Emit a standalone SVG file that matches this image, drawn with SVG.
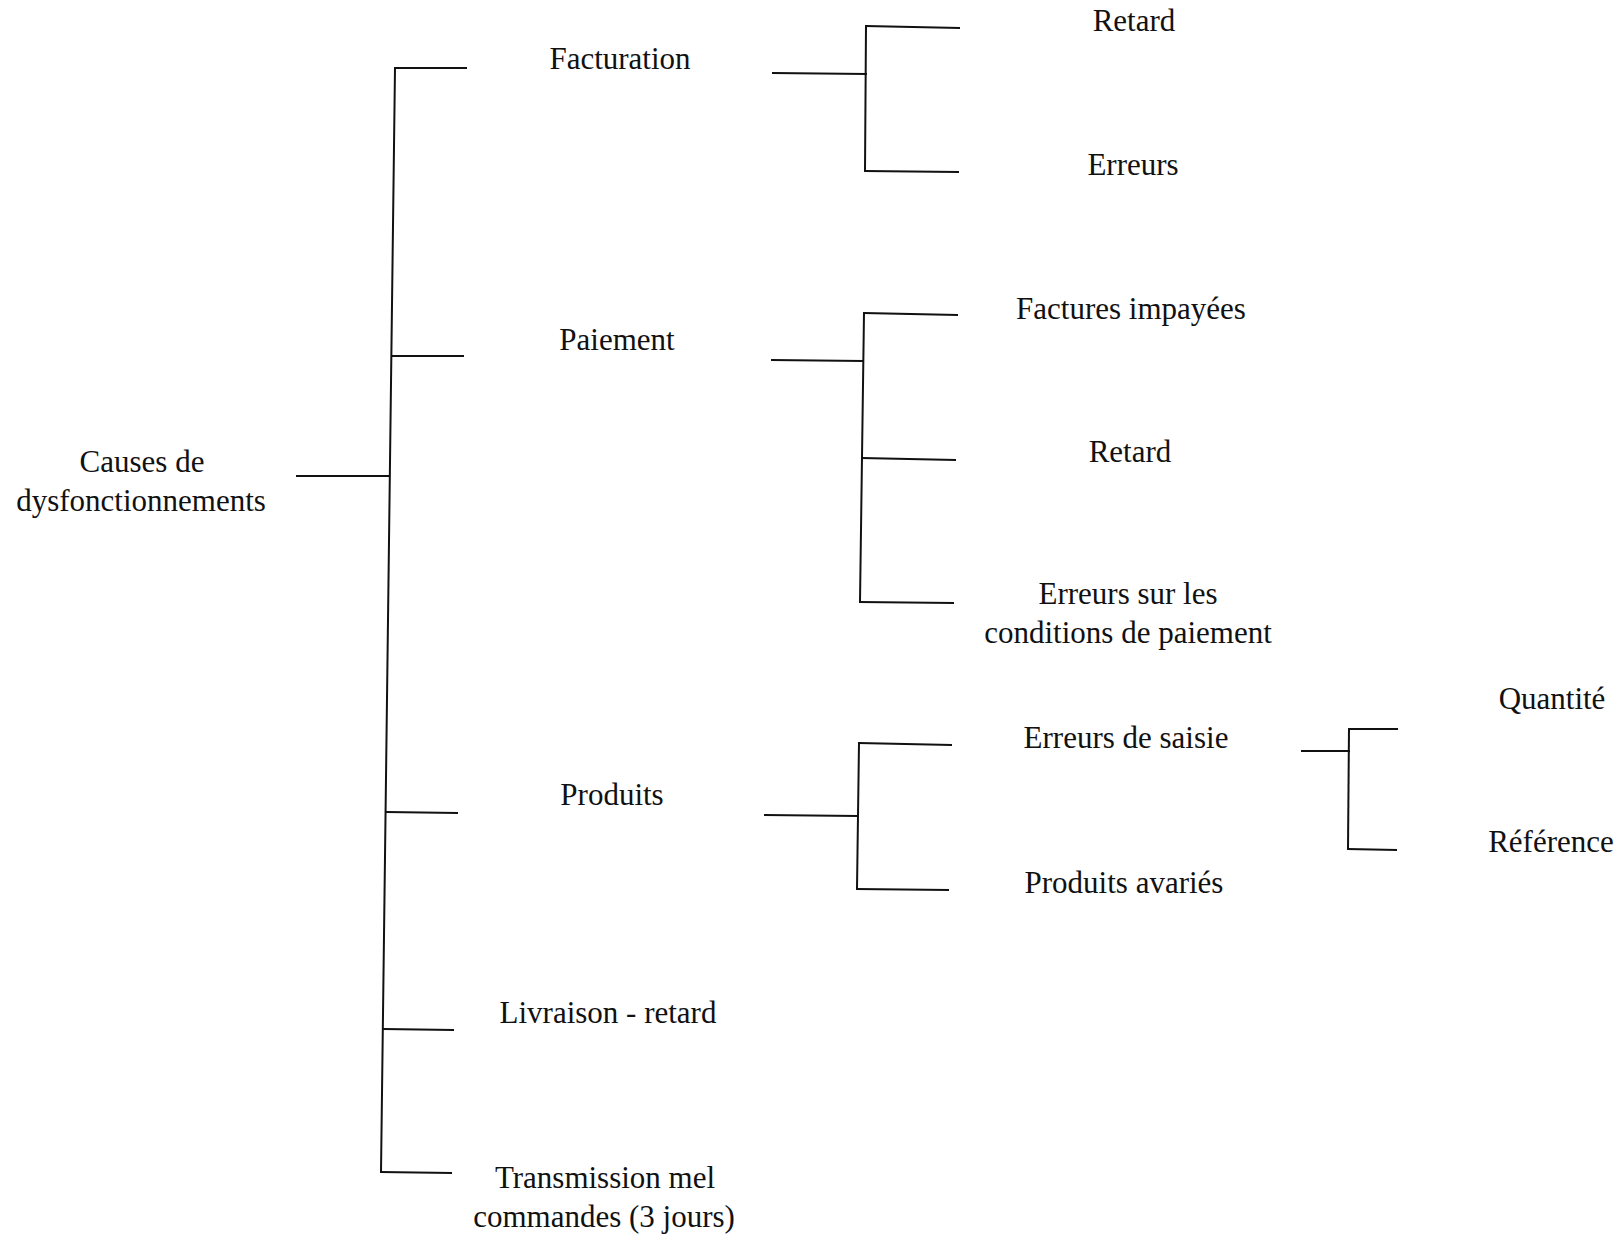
<svg xmlns="http://www.w3.org/2000/svg" width="1623" height="1236" viewBox="0 0 1623 1236">
<style>
.c line{stroke:#111;stroke-width:2;fill:none;stroke-linecap:square}
text{font-family:"Liberation Serif","Times New Roman",serif;font-size:31px;fill:#111;text-anchor:middle}
</style>
<rect width="1623" height="1236" fill="#fff"/>
<g class="c" id="connectors">
<line x1="297" y1="476" x2="389" y2="476"/>
<line x1="395" y1="68" x2="381" y2="1172"/>
<line x1="395" y1="68" x2="466" y2="68"/>
<line x1="392" y1="356" x2="463" y2="356"/>
<line x1="387" y1="812" x2="457" y2="813"/>
<line x1="384" y1="1029" x2="453" y2="1030"/>
<line x1="381" y1="1172" x2="451" y2="1173"/>
<line x1="773" y1="73" x2="866" y2="74"/>
<line x1="866" y1="26" x2="865" y2="171"/>
<line x1="866" y1="26" x2="959" y2="28"/>
<line x1="865" y1="171" x2="958" y2="172"/>
<line x1="772" y1="360" x2="862" y2="361"/>
<line x1="864" y1="313" x2="860" y2="602"/>
<line x1="864" y1="313" x2="957" y2="315"/>
<line x1="862" y1="458" x2="955" y2="460"/>
<line x1="860" y1="602" x2="953" y2="603"/>
<line x1="765" y1="815" x2="857" y2="816"/>
<line x1="859" y1="743" x2="857" y2="889"/>
<line x1="859" y1="743" x2="951" y2="745"/>
<line x1="857" y1="889" x2="948" y2="890"/>
<line x1="1302" y1="751" x2="1349" y2="751"/>
<line x1="1349" y1="729" x2="1348" y2="849"/>
<line x1="1349" y1="729" x2="1397" y2="729"/>
<line x1="1348" y1="849" x2="1396" y2="850"/>
</g>
<g id="root"><text x="142" y="472">Causes de</text><text x="141" y="511">dysfonctionnements</text></g>
<g id="facturation"><text x="620" y="69">Facturation</text></g>
<g id="paiement"><text x="617" y="350">Paiement</text></g>
<g id="produits"><text x="612" y="805">Produits</text></g>
<g id="livraison"><text x="608" y="1023">Livraison - retard</text></g>
<g id="transmission"><text x="605" y="1188">Transmission mel</text><text x="604" y="1227">commandes (3 jours)</text></g>
<g id="fact-retard"><text x="1134" y="31">Retard</text></g>
<g id="fact-erreurs"><text x="1133" y="175">Erreurs</text></g>
<g id="factures-impayees"><text x="1131" y="319">Factures impayées</text></g>
<g id="paie-retard"><text x="1130" y="462">Retard</text></g>
<g id="erreurs-conditions"><text x="1128" y="604">Erreurs sur les</text><text x="1128" y="643">conditions de paiement</text></g>
<g id="erreurs-saisie"><text x="1126" y="748">Erreurs de saisie</text></g>
<g id="produits-avaries"><text x="1124" y="893">Produits avariés</text></g>
<g id="quantite"><text x="1552" y="709">Quantité</text></g>
<g id="reference"><text x="1551" y="852">Référence</text></g>
</svg>
